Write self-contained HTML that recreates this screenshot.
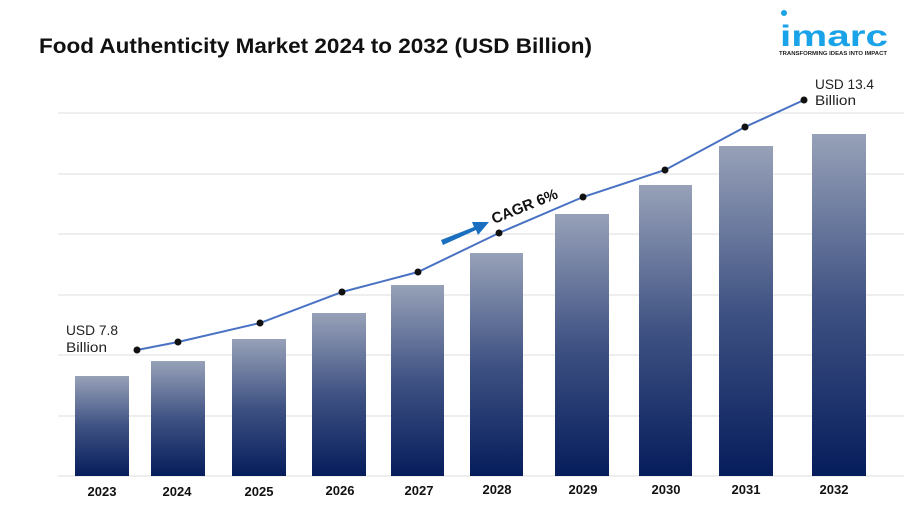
<!DOCTYPE html>
<html><head><style>
body{margin:0;width:904px;height:508px;background:#fff;overflow:hidden;font-family:"Liberation Sans",sans-serif}
</style></head><body>
<svg width="904" height="508" xmlns="http://www.w3.org/2000/svg">
<defs>
<linearGradient id="g" x1="0" y1="0" x2="0" y2="1">
<stop offset="0" stop-color="#97a1b8"/>
<stop offset="0.5" stop-color="#3f5283"/>
<stop offset="1" stop-color="#061d5c"/>
</linearGradient>
</defs>
<text x="39" y="53" font-size="21" font-weight="bold" fill="#111" textLength="553" lengthAdjust="spacingAndGlyphs">Food Authenticity Market 2024 to 2032 (USD Billion)</text>
<circle cx="784" cy="13" r="3" fill="#1aa3e8"/>
<text x="780" y="46" font-size="30" font-weight="bold" fill="#1aa3e8" textLength="108" lengthAdjust="spacingAndGlyphs">imarc</text>
<text x="779" y="55" font-size="5" font-weight="bold" fill="#222" textLength="108" lengthAdjust="spacingAndGlyphs">TRANSFORMING IDEAS INTO IMPACT</text>
<g stroke="#ddd" stroke-width="1">
<line x1="58" y1="113" x2="904" y2="113"/><line x1="58" y1="174" x2="904" y2="174"/>
<line x1="58" y1="234" x2="904" y2="234"/><line x1="58" y1="295" x2="904" y2="295"/>
<line x1="58" y1="355" x2="904" y2="355"/><line x1="58" y1="416" x2="904" y2="416"/>
<line x1="58" y1="476" x2="904" y2="476"/>
</g>
<g fill="url(#g)">
<rect x="75" y="376" width="54" height="100"/><rect x="151" y="361" width="54" height="115"/>
<rect x="232" y="339" width="54" height="137"/><rect x="312" y="313" width="54" height="163"/>
<rect x="391" y="285" width="53" height="191"/><rect x="470" y="253" width="53" height="223"/>
<rect x="555" y="214" width="54" height="262"/><rect x="639" y="185" width="53" height="291"/>
<rect x="719" y="146" width="54" height="330"/><rect x="812" y="134" width="54" height="342"/>
</g>
<polyline fill="none" stroke="#4a72c4" stroke-width="2" points="137,350 178,342 260,323 342,292 418,272 499,233 583,197 665,170 745,127 804,100"/>
<g fill="#111">
<circle cx="137" cy="350" r="3.5"/><circle cx="178" cy="342" r="3.5"/><circle cx="260" cy="323" r="3.5"/>
<circle cx="342" cy="292" r="3.5"/><circle cx="418" cy="272" r="3.5"/><circle cx="499" cy="233" r="3.5"/>
<circle cx="583" cy="197" r="3.5"/><circle cx="665" cy="170" r="3.5"/><circle cx="745" cy="127" r="3.5"/>
<circle cx="804" cy="100" r="3.5"/>
</g>
<g font-size="14" fill="#222">
<text x="66" y="335" textLength="52" lengthAdjust="spacingAndGlyphs">USD 7.8</text><text x="66" y="352" textLength="41" lengthAdjust="spacingAndGlyphs">Billion</text>
<text x="815" y="89" textLength="59" lengthAdjust="spacingAndGlyphs">USD 13.4</text><text x="815" y="105" textLength="41" lengthAdjust="spacingAndGlyphs">Billion</text>
</g>
<polygon points="441,240 474,227 472,222 489,222 478,235 476,230 443,245" fill="#1a6fc0"/>
<text x="0" y="0" font-size="15" font-weight="bold" fill="#111" transform="translate(494,224) rotate(-22)">CAGR 6%</text>
<g font-size="13" font-weight="bold" fill="#111" text-anchor="middle">
<text x="102" y="496">2023</text><text x="177" y="496">2024</text><text x="259" y="496">2025</text>
<text x="340" y="495">2026</text><text x="419" y="495">2027</text><text x="497" y="494">2028</text>
<text x="583" y="494">2029</text><text x="666" y="494">2030</text><text x="746" y="494">2031</text>
<text x="834" y="494">2032</text>
</g>
</svg>
</body></html>
